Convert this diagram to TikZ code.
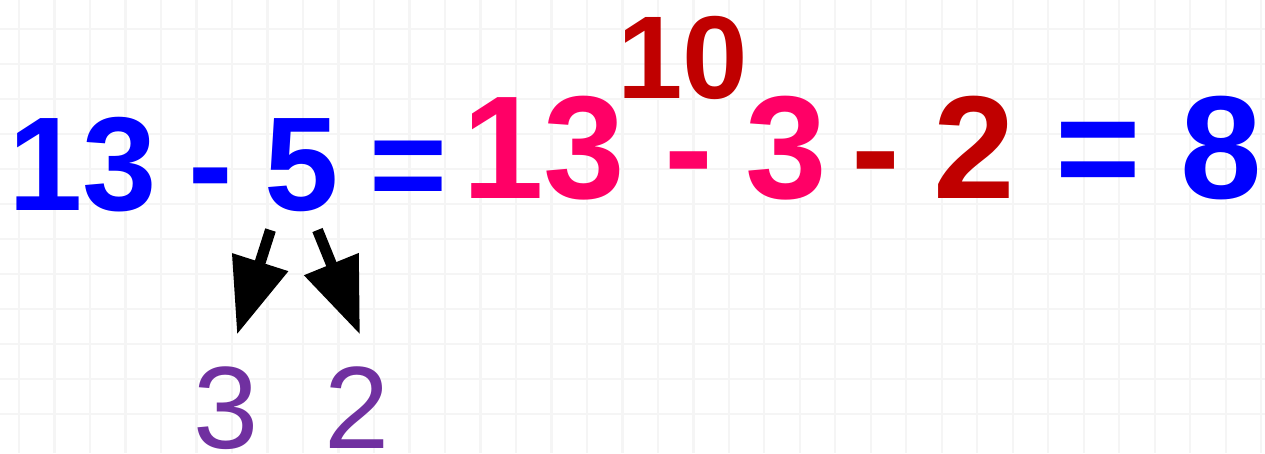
\documentclass[tikz,border=0pt]{standalone}
\usepackage{fontspec}
\setmainfont{Liberation Sans}
\usetikzlibrary{arrows.meta,calc}
\definecolor{eqblue}{HTML}{0000FF}
\definecolor{eqpink}{HTML}{FF0066}
\definecolor{eqred}{HTML}{C00000}
\definecolor{eqpurple}{HTML}{7030A0}
\begin{document}
\begin{tikzpicture}[x=0.01cm, y=-0.01cm, >={Triangle[length=0.76cm,width=0.56cm]},
  t/.style={inner sep=0, anchor=base, font=\bfseries\fontsize{38}{38}\selectfont},
  big/.style={inner sep=0, anchor=base, font=\bfseries\fontsize{41.7}{42}\selectfont},
  top/.style={inner sep=0, anchor=base, font=\bfseries\fontsize{33.5}{34}\selectfont, text=eqred},
  part/.style={inner sep=0, anchor=base, font=\fontsize{33.3}{34}\selectfont, text=eqpurple},
  split/.style={->, line width=0.11cm},
  gridline/.style={black!4, line width=0.02cm}]
  \useasboundingbox (0,0) rectangle (1265,453);
  \fill[white] (0,0) rectangle (1265,453);
  % background grid
  \foreach \i in {0,...,35} \draw[gridline] (19+\i*35.5,0) -- ++(0,453);
  \foreach \j in {0,...,12} \draw[gridline] (0,-6+\j*35) -- ++(1265,0);
  % left side
  \node[t, text=eqblue] (a13)  at (83,210)   {13};
  \node[t, text=eqblue] (am)   at (211,210)  {-};
  \node[t, text=eqblue] (five) at (301.5,210) {5};
  \node[t, text=eqblue] (aeq)  at (409,210)  {=};
  % right side
  \node[big, text=eqpink] (b13) at (544,198)   {13};
  \node[big, text=eqpink] (bm1) at (688.5,198) {-};
  \node[big, text=eqpink] (b3)  at (786.5,198) {3};
  \node[big, text=eqred]  (bm2) at (875.5,198) {-};
  \node[big, text=eqred]  (b2)  at (974.5,198) {2};
  \node[big, text=eqblue] (beq) at (1098,198)  {=};
  \node[big, text=eqblue] (b8)  at (1221,198)  {8};
  \node[top] (ten) at (683,98) {10};
  % split of 5
  \node[part] (three) at (226,448)   {3};
  \node[part] (two)   at (357.5,448) {2};
  \draw[split] ($(five.south)+(-31,18)$) -- ($(three.north)+(11,-31)$);
  \draw[split] ($(five.south)+(16,18)$)  -- ($(two.north)+(2.5,-31)$);
\end{tikzpicture}
\end{document}
